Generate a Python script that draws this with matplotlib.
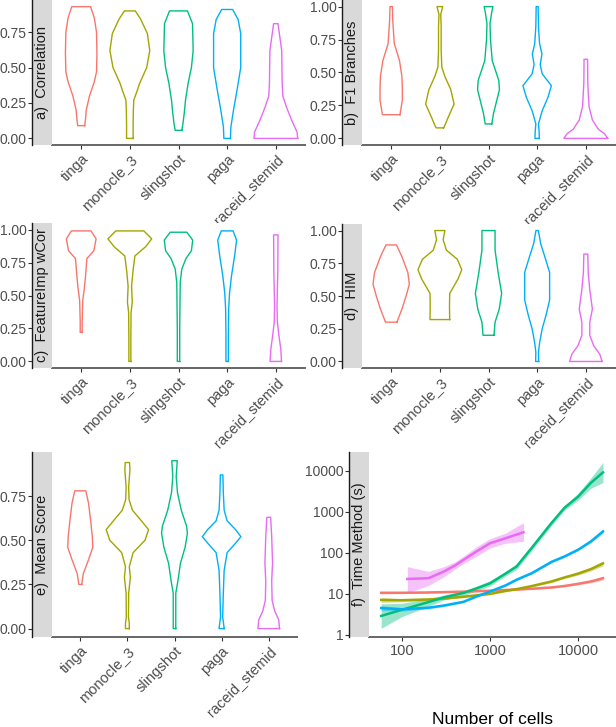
import numpy as np
import matplotlib
matplotlib.use('Agg')
import matplotlib.pyplot as plt
from matplotlib.ticker import FixedLocator, NullLocator

plt.rcParams['font.family'] = ['Liberation Sans', 'DejaVu Sans']

METHODS = ['tinga', 'monocle_3', 'slingshot', 'paga', 'raceid_stemid']
COLORS = ['#F8766D', '#A3A500', '#00BF7D', '#00B0F6', '#E76BF3']

# violin profiles: score values and relative density (1 = widest)
CORR_Y = [[0.09, 0.14, 0.2, 0.3, 0.4, 0.47, 0.6, 0.75, 0.85, 0.93],
          [0, 0.1, 0.2, 0.27, 0.33, 0.39, 0.5, 0.62, 0.74, 0.84, 0.9],
          [0.057, 0.1, 0.175, 0.27, 0.39, 0.5, 0.62, 0.81, 0.9],
          [0, 0.08, 0.2, 0.34, 0.5, 0.74, 0.84, 0.91],
          [0, 0.045, 0.13, 0.22, 0.3, 0.39, 0.62, 0.81]]
CORR_D = [[0.16, 0.2, 0.23, 0.38, 0.6, 0.7, 0.72, 0.7, 0.6, 0.43],
          [0.15, 0.15, 0.16, 0.18, 0.32, 0.45, 0.77, 0.91, 0.8, 0.5, 0.25],
          [0.15, 0.2, 0.26, 0.32, 0.44, 0.59, 0.67, 0.64, 0.41],
          [0.15, 0.17, 0.29, 0.45, 0.62, 0.62, 0.5, 0.25],
          [1.0, 0.97, 0.72, 0.49, 0.32, 0.29, 0.27, 0.1]]

F1_Y = [[0.18, 0.21, 0.29, 0.38, 0.47, 0.59, 0.72, 0.9, 1.0],
        [0.08, 0.1, 0.16, 0.26, 0.37, 0.47, 0.54, 0.67, 0.85, 0.94, 1.0],
        [0.11, 0.19, 0.29, 0.37, 0.44, 0.59, 0.75, 0.87, 0.95, 1.0],
        [0, 0.05, 0.11, 0.21, 0.31, 0.4, 0.49, 0.56, 0.64, 0.72, 0.85, 1.0],
        [0, 0.035, 0.07, 0.14, 0.24, 0.42, 0.6]]
F1_D = [[0.4, 0.43, 0.51, 0.51, 0.49, 0.38, 0.14, 0.07, 0.055],
        [0.17, 0.23, 0.38, 0.65, 0.5, 0.23, 0.09, 0.06, 0.06, 0.04, 0.13],
        [0.15, 0.23, 0.38, 0.5, 0.47, 0.17, 0.09, 0.07, 0.14, 0.2],
        [0.1, 0.09, 0.06, 0.23, 0.49, 0.65, 0.23, 0.14, 0.22, 0.11, 0.06, 0.045],
        [1.0, 0.86, 0.57, 0.3, 0.15, 0.09, 0.08]]

FIMP_Y = [[0.22, 0.3, 0.46, 0.55, 0.65, 0.78, 0.84, 0.93, 0.99],
          [0, 0.17, 0.37, 0.45, 0.57, 0.68, 0.8, 0.87, 0.93, 0.99],
          [0, 0.25, 0.47, 0.6, 0.7, 0.78, 0.84, 0.92, 0.98],
          [0, 0.2, 0.4, 0.52, 0.65, 0.8, 0.92, 0.99],
          [0, 0.09, 0.2, 0.3, 0.42, 0.68, 0.96]]
FIMP_D = [[0.045, 0.045, 0.07, 0.14, 0.2, 0.26, 0.58, 0.68, 0.45],
          [0.045, 0.045, 0.055, 0.11, 0.08, 0.14, 0.23, 0.72, 1.0, 0.64],
          [0.055, 0.055, 0.07, 0.08, 0.15, 0.34, 0.59, 0.65, 0.38],
          [0.055, 0.055, 0.07, 0.11, 0.2, 0.34, 0.43, 0.27],
          [0.26, 0.23, 0.14, 0.07, 0.055, 0.09, 0.1]]

HIM_Y = [[0.3, 0.4, 0.5, 0.59, 0.68, 0.8, 0.89],
         [0.32, 0.42, 0.52, 0.63, 0.7, 0.78, 0.85, 0.93, 1.0],
         [0.2, 0.3, 0.4, 0.52, 0.68, 0.85, 1.0],
         [0, 0.07, 0.14, 0.25, 0.35, 0.47, 0.68, 0.8, 0.9, 1.0],
         [0, 0.055, 0.12, 0.2, 0.3, 0.4, 0.55, 0.68, 0.82]]
HIM_D = [[0.26, 0.49, 0.68, 0.83, 0.76, 0.49, 0.24],
         [0.45, 0.44, 0.45, 0.83, 1.0, 0.8, 0.3, 0.15, 0.23],
         [0.25, 0.3, 0.49, 0.6, 0.44, 0.3, 0.3],
         [0.07, 0.06, 0.11, 0.23, 0.4, 0.57, 0.57, 0.35, 0.16, 0.055],
         [0.74, 0.64, 0.36, 0.18, 0.18, 0.3, 0.18, 0.11, 0.09]]

MEAN_Y = [[0.25, 0.31, 0.39, 0.46, 0.52, 0.61, 0.71, 0.78],
          [0, 0.03, 0.066, 0.2, 0.29, 0.35, 0.43, 0.5, 0.56, 0.61, 0.67, 0.73, 0.8, 0.9, 0.94],
          [0, 0.2, 0.27, 0.37, 0.46, 0.54, 0.58, 0.67, 0.77, 0.86, 0.95],
          [0, 0.03, 0.066, 0.2, 0.33, 0.43, 0.48, 0.52, 0.56, 0.61, 0.67, 0.77, 0.87],
          [0, 0.05, 0.1, 0.16, 0.27, 0.37, 0.52, 0.63]]
MEAN_D = [[0.07, 0.14, 0.39, 0.59, 0.57, 0.49, 0.39, 0.26],
          [0.09, 0.09, 0.05, 0.06, 0.14, 0.09, 0.27, 0.83, 1.0, 0.66, 0.24, 0.08, 0.06, 0.12, 0.1],
          [0.06, 0.06, 0.16, 0.28, 0.5, 0.61, 0.57, 0.32, 0.14, 0.08, 0.13],
          [0.12, 0.09, 0.05, 0.08, 0.12, 0.26, 0.63, 0.91, 0.66, 0.26, 0.12, 0.08, 0.06],
          [0.51, 0.47, 0.28, 0.16, 0.14, 0.18, 0.14, 0.09]]

# run time vs number of cells (smoothed fit with confidence band)
CELLS = [58, 100, 200, 300, 500, 700, 1000, 1500, 2000, 3000, 5000, 7000, 10000, 14000, 19200]
T_TINGA = [10.6, 10.6, 10.8, 11.0, 11.3, 11.6, 11.9, 12.4, 12.7, 13.3, 14.3, 15.5, 17.5, 20, 24]
T_TINGA_LO = [10.0, 10.2, 10.4, 10.6, 10.9, 11.2, 11.5, 12.0, 12.3, 12.9, 13.7, 14.8, 16.5, 18.5, 21.5]
T_TINGA_HI = [11.2, 11.0, 11.2, 11.4, 11.7, 12.0, 12.3, 12.8, 13.1, 13.7, 14.9, 16.2, 18.5, 21.5, 26.5]
T_MONO = [7.1, 7.0, 7.3, 7.7, 8.5, 9.2, 10.0, 11.8, 13.0, 15.5, 20, 25, 31, 40, 55]
T_MONO_LO = [6.2, 6.4, 6.8, 7.3, 8.1, 8.8, 9.5, 11.2, 12.3, 14.7, 18.8, 23.5, 28.5, 36, 48]
T_MONO_HI = [8.1, 7.6, 7.8, 8.1, 8.9, 9.6, 10.5, 12.4, 13.7, 16.3, 21.3, 26.5, 33.5, 44, 63]
T_SLING = [2.9, 4.1, 6.3, 8.2, 10.5, 13.5, 18, 31, 46, 134, 530, 1230, 2300, 5000, 9000]
T_SLING_LO = [1.45, 2.8, 5.0, 7.1, 9.0, 11.8, 15.5, 27, 39, 115, 460, 1070, 1900, 3700, 5100]
T_SLING_HI = [5.7, 5.9, 7.6, 9.4, 12.0, 15.3, 21, 35, 54, 155, 610, 1410, 2800, 6600, 15700]
T_PAGA = [4.5, 4.2, 4.6, 5.2, 6.4, 8.6, 11.4, 16, 22, 32, 60, 81, 118, 188, 330]
T_PAGA_LO = [3.9, 3.8, 4.3, 4.9, 6.1, 8.2, 10.9, 15.3, 21, 30.5, 57, 77, 112, 176, 295]
T_PAGA_HI = [5.2, 4.6, 4.9, 5.5, 6.7, 9.0, 11.9, 16.7, 23, 33.5, 63, 85, 124, 200, 370]
CELLS_RACEID = [115, 200, 300, 400, 500, 700, 1000, 1500, 2400]
T_RACEID = [23, 24, 35, 49, 67, 107, 170, 225, 315]
T_RACEID_LO = [10.5, 16, 26, 40, 55, 82, 130, 170, 190]
T_RACEID_HI = [46, 35, 46, 60, 82, 140, 220, 300, 540]

W, H = 616, 727
fig = plt.figure(figsize=(W / 100, H / 100), dpi=100)

TICK_KW = dict(labelsize=10, labelcolor='#4D4D4D', color='#333333', length=3, width=0.8, pad=1)


def px_axes(left, top, right, bottom, **kw):
    return fig.add_axes([left / W, 1 - bottom / H, (right - left) / W, (bottom - top) / H], **kw)


def make_panel(geom, label, ylim, logy=False):
    axis_x, strip_r, right, top, bottom = geom
    ax = px_axes(strip_r, top, right, bottom)
    sax = px_axes(axis_x, top, strip_r, bottom, sharey=ax)
    if logy:
        ax.set_yscale('log')
    ax.set_ylim(*ylim)
    for s in ['left', 'top', 'right']:
        ax.spines[s].set_visible(False)
    ax.spines['bottom'].set_color('#666666')
    ax.spines['bottom'].set_linewidth(1.4)
    ax.tick_params(axis='y', left=False, labelleft=False, which='both')
    ax.tick_params(axis='x', **dict(TICK_KW, labelsize=10.5, pad=2))

    sax.set_facecolor('#D9D9D9')
    for s in ['top', 'right', 'bottom']:
        sax.spines[s].set_visible(False)
    sax.spines['left'].set_color('#1A1A1A')
    sax.spines['left'].set_linewidth(1.0)
    sax.set_xticks([])
    sax.tick_params(axis='y', **TICK_KW)
    sax.text(0.5, 0.5, label, transform=sax.transAxes, rotation=90,
             ha='center', va='center', fontsize=10.5, color='#1A1A1A')
    return ax, sax


def violin_panel(geom, label, ylim, yticks, ys, ds):
    ax, sax = make_panel(geom, label, ylim)
    for i, (vals, dens) in enumerate(zip(ys, ds)):
        pos = i + 1
        vals = np.asarray(vals)
        w = 0.45 * np.asarray(dens)
        xs = np.concatenate([pos + w, (pos - w)[::-1], [pos + w[0]]])
        yy = np.concatenate([vals, vals[::-1], [vals[0]]])
        ax.plot(xs, yy, color=COLORS[i], lw=1.0, solid_joinstyle='round')
    ax.set_xlim(0.4, 5.6)
    ax.set_xticks(range(1, 6))
    ax.set_xticklabels(METHODS, rotation=45, ha='right', va='top', rotation_mode='anchor')
    sax.set_yticks(yticks)
    sax.set_yticklabels(['%.2f' % t for t in yticks])
    return ax


ticks4 = [0, 0.25, 0.5, 0.75]
ticks5 = [0, 0.25, 0.5, 0.75, 1.0]

violin_panel((32, 52, 305, 0, 145), 'a)  Correlation', (-0.0465, 0.977), ticks4, CORR_Y, CORR_D)
violin_panel((342, 362, 615, 0, 145), 'b)  F1 Branches', (-0.05, 1.05), ticks5, F1_Y, F1_D)
violin_panel((32, 52, 305, 223, 368), 'c)  FeatureImp wCor', (-0.05, 1.05), ticks5, FIMP_Y, FIMP_D)
violin_panel((342, 362, 615, 224, 368), 'd)  HIM', (-0.05, 1.05), ticks5, HIM_Y, HIM_D)
violin_panel((32, 52, 297, 452, 637), 'e)  Mean Score', (-0.0476, 0.9996), ticks4, MEAN_Y, MEAN_D)

# panel f: running time
ax, sax = make_panel((349, 369, 615, 452, 637), 'f)  Time Method (s)',
                     (10 ** -0.05, 10 ** 4.45), logy=True)
ax.set_xscale('log')
series = [(CELLS, T_TINGA, T_TINGA_LO, T_TINGA_HI),
          (CELLS, T_MONO, T_MONO_LO, T_MONO_HI),
          (CELLS, T_SLING, T_SLING_LO, T_SLING_HI),
          (CELLS, T_PAGA, T_PAGA_LO, T_PAGA_HI),
          (CELLS_RACEID, T_RACEID, T_RACEID_LO, T_RACEID_HI)]
for i, (x, y, lo, hi) in enumerate(series):
    ax.fill_between(x, lo, hi, color=COLORS[i], alpha=0.4, lw=0)
    ax.plot(x, y, color=COLORS[i], lw=1.8, solid_joinstyle='round')
ax.set_xlim(10 ** 1.625, 10 ** 4.42)
ax.xaxis.set_major_locator(FixedLocator([100, 1000, 10000]))
ax.xaxis.set_minor_locator(NullLocator())
ax.set_xticklabels(['100', '1000', '10000'])
sax.yaxis.set_major_locator(FixedLocator([1, 10, 100, 1000, 10000]))
sax.yaxis.set_minor_locator(NullLocator())
sax.set_yticklabels(['1', '10', '100', '1000', '10000'])

fig.text(492 / W, 1 - 720 / H, 'Number of cells', ha='center', va='center', fontsize=12.5, color='black')

fig.savefig('out.png', dpi=100)
